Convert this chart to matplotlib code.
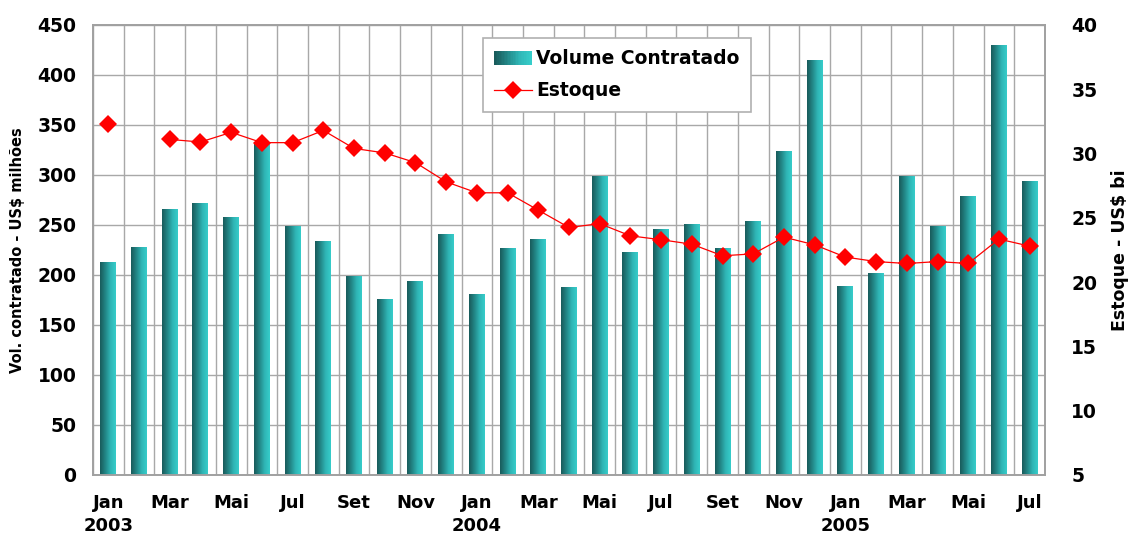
import numpy as np
import matplotlib
matplotlib.use("Agg")
import matplotlib.pyplot as plt
from matplotlib.patches import Rectangle
from matplotlib.lines import Line2D
from matplotlib.legend_handler import HandlerBase
from matplotlib.colors import LinearSegmentedColormap

months = ["Jan", "Fev", "Mar", "Abr", "Mai", "Jun", "Jul", "Ago", "Set", "Out", "Nov", "Dez"] * 2 + \
         ["Jan", "Fev", "Mar", "Abr", "Mai", "Jun", "Jul"]
years = {0: "2003", 12: "2004", 24: "2005"}

volume = [213, 228, 266, 272, 258, 333, 249, 234, 199, 176, 194, 241,
          181, 227, 236, 188, 299, 223, 246, 251, 227, 254, 324, 415,
          189, 202, 299, 249, 279, 430, 294]

estoque = [32.3, np.nan, 31.1, 30.9, 31.65, 30.85, 30.85, 31.8, 30.4, 30.05, 29.3, 27.8,
           26.95, 26.95, 25.6, 24.25, 24.55, 23.6, 23.3, 22.95, 22.05, 22.2, 23.5, 22.9,
           21.95, 21.6, 21.45, 21.6, 21.45, 23.35, 22.8]

FONT = "DejaVu Sans"
plt.rcParams['font.family'] = FONT
plt.rcParams['font.weight'] = 'bold'

grad_cmap = LinearSegmentedColormap.from_list("g", ["#195b5b", "#228585", "#2fb5b5", "#36cdca"])
grad = np.linspace(0, 1, 64).reshape(1, -1)

fig = plt.figure(figsize=(11.32, 5.36), dpi=100)
ax = fig.add_axes([93 / 1132, 1 - 475 / 536, (1045 - 93) / 1132, 450 / 536])
ax2 = ax.twinx()

n = len(volume)
x = np.arange(n)
bars = ax.bar(x, volume, width=0.52, color="#2a9f9f", edgecolor="none", zorder=2)
for b in bars:
    x0, y0 = b.get_x(), b.get_y()
    w, h = b.get_width(), b.get_height()
    im = ax.imshow(grad, cmap=grad_cmap, extent=[x0, x0 + w, y0, y0 + h],
                   aspect="auto", zorder=2.1, interpolation="bicubic")
    im.set_clip_path(b)

ax.set_xlim(-0.5, n - 0.5)
ax.set_ylim(0, 450)
ax.set_yticks(np.arange(0, 451, 50))
ax.set_xticks(np.arange(-0.5, n, 1), minor=True)
ax.grid(axis="y", color="#a8a8a8", lw=1.0, zorder=0)
ax.grid(axis="x", which="minor", color="#a8a8a8", lw=1.0, zorder=0)
ax.grid(axis="x", which="major", visible=False)
ax.set_axisbelow(True)

tick_pos = list(range(0, n, 2))
tick_lab = [months[i] + ("\n" + years[i] if i in years else "") for i in tick_pos]
ax.set_xticks(tick_pos)
ax.set_xticklabels(tick_lab, fontsize=13, fontweight="bold", linespacing=1.3)
for t in ax.get_xticklabels():
    t.set_verticalalignment("top")
ax.tick_params(axis="x", which="both", length=0, pad=14)
ax.tick_params(axis="y", length=0, pad=12, labelsize=13.5)
ax.set_ylabel("Vol. contratado - US$ milhões", fontsize=10.5, fontweight="bold", labelpad=9)

ax2.plot(x, estoque, color="#ff0000", lw=0.9, marker="D", markersize=9,
         markeredgewidth=0, markerfacecolor="#ff0000", zorder=5)
ax2.set_ylim(5, 40)
ax2.set_yticks(np.arange(5, 41, 5))
ax2.tick_params(axis="y", length=0, pad=19, labelsize=13.5)
ax2.set_ylabel("Estoque - US$ bi", fontsize=12.5, fontweight="bold", labelpad=10)

for a in (ax, ax2):
    for s in a.spines.values():
        s.set_color("#a0a0a0")
        s.set_linewidth(1.2)


class GradHandler(HandlerBase):
    def create_artists(self, legend, orig_handle, xdescent, ydescent, width, height, fontsize, trans):
        arts = []
        k = 24
        for i in range(k):
            c = grad_cmap(i / (k - 1))
            arts.append(Rectangle((-xdescent + width * i / k, -ydescent), width / k + 0.3, height,
                                  facecolor=c, edgecolor="none", transform=trans))
        return arts


bar_handle = Rectangle((0, 0), 1, 1)
line_handle = Line2D([], [], color="#ff0000", lw=0.9, marker="D", markersize=9, markeredgewidth=0)
leg = ax2.legend([bar_handle, line_handle], ["Volume Contratado", "Estoque"],
                 handler_map={Rectangle: GradHandler()},
                 loc="upper left", bbox_to_anchor=((483 - 93) / 952, 1 - (38 - 25) / 450),
                 prop={"weight": "bold", "size": 13.5}, fancybox=False, shadow=False,
                 framealpha=1, edgecolor="#b0b0b0", borderpad=0.6, labelspacing=0.7,
                 handlelength=2.0, handletextpad=0.25, borderaxespad=0, handleheight=0.75)
leg.get_frame().set_linewidth(1.2)

fig.savefig("out.png", dpi=100)
